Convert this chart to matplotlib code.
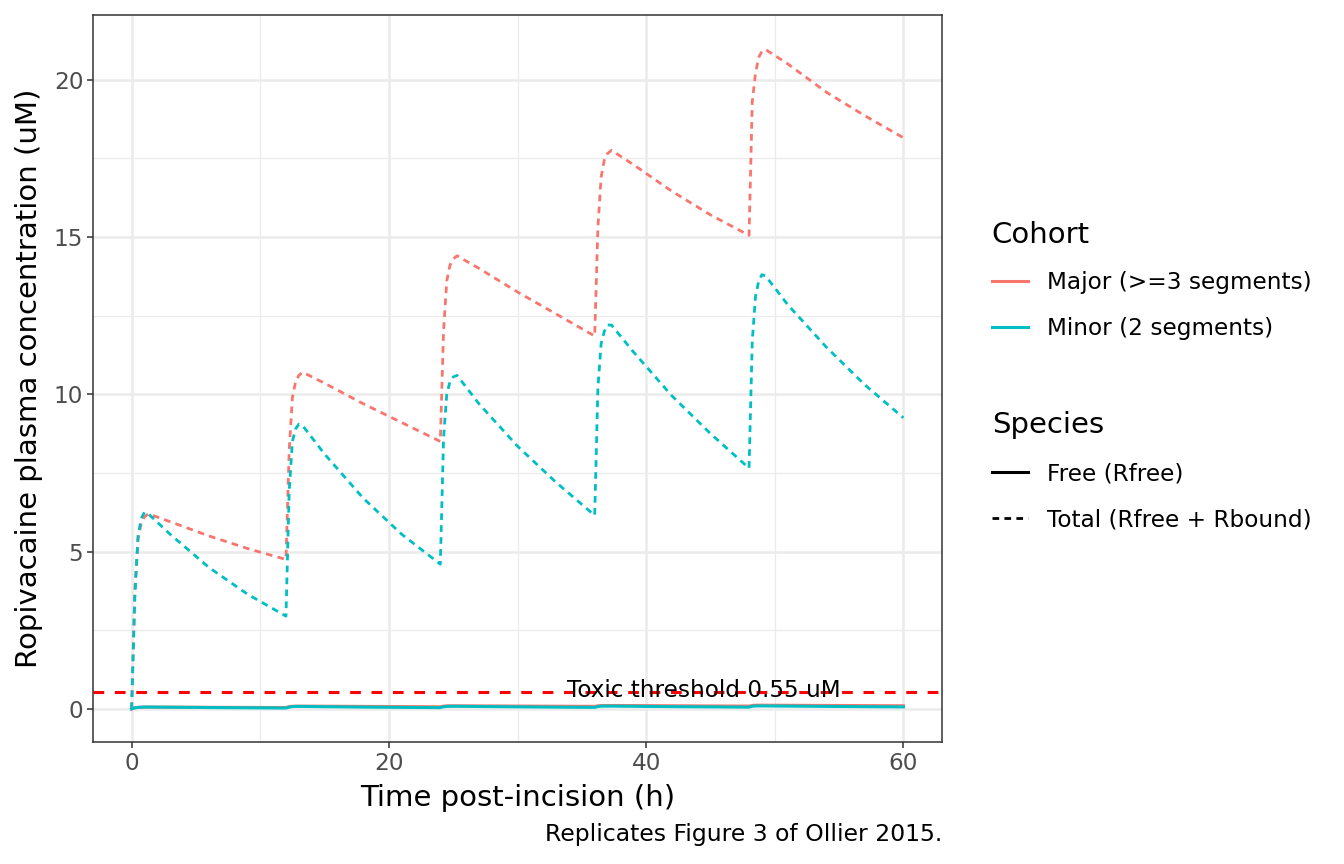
import matplotlib
matplotlib.use("Agg")
import matplotlib.pyplot as plt
from matplotlib.lines import Line2D

# time grid (h)
time_h = [0, 0.25, 0.5, 0.75, 1.0, 1.3, 3, 6, 9,
          12, 12.25, 12.5, 12.75, 13, 13.3, 15, 18, 21,
          24, 24.25, 24.5, 24.75, 25, 25.3, 27, 30, 33,
          36, 36.25, 36.5, 36.75, 37, 37.3, 39, 42, 45,
          48, 48.25, 48.5, 48.75, 49, 49.3, 51, 54, 57, 60]

major_total = [0, 3.8, 5.4, 5.9, 6.1, 6.2, 5.95, 5.5, 5.1,
               4.75, 8.2, 9.9, 10.4, 10.6, 10.7, 10.35, 9.7, 9.1,
               8.5, 12.0, 13.6, 14.1, 14.3, 14.4, 14.0, 13.25, 12.55,
               11.85, 15.3, 16.9, 17.45, 17.65, 17.75, 17.3, 16.45, 15.7,
               15.05, 19.3, 20.2, 20.7, 20.9, 20.95, 20.5, 19.6, 18.85, 18.15]

minor_total = [0, 3.5, 5.5, 6.05, 6.25, 6.2, 5.55, 4.5, 3.65,
               2.95, 6.9, 8.5, 8.9, 9.05, 9.0, 8.1, 6.7, 5.55,
               4.6, 8.6, 10.0, 10.4, 10.55, 10.6, 9.7, 8.35, 7.2,
               6.15, 10.2, 11.6, 12.0, 12.2, 12.2, 11.35, 9.95, 8.75,
               7.65, 11.7, 13.1, 13.6, 13.8, 13.75, 12.85, 11.5, 10.3, 9.25]

major_free = [0, 0.04, 0.05, 0.055, 0.06, 0.06, 0.058, 0.053, 0.049,
              0.045, 0.075, 0.085, 0.09, 0.09, 0.09, 0.088, 0.082, 0.076,
              0.07, 0.09, 0.1, 0.1, 0.1, 0.1, 0.098, 0.093, 0.088,
              0.083, 0.1, 0.11, 0.11, 0.11, 0.11, 0.108, 0.102, 0.096,
              0.092, 0.11, 0.12, 0.12, 0.12, 0.12, 0.117, 0.112, 0.107, 0.102]

minor_free = [0, 0.035, 0.05, 0.055, 0.06, 0.06, 0.055, 0.045, 0.037,
              0.03, 0.06, 0.075, 0.08, 0.08, 0.08, 0.072, 0.06, 0.05,
              0.042, 0.07, 0.08, 0.085, 0.085, 0.085, 0.078, 0.068, 0.058,
              0.05, 0.078, 0.088, 0.09, 0.09, 0.09, 0.084, 0.074, 0.066,
              0.058, 0.085, 0.094, 0.096, 0.096, 0.096, 0.09, 0.081, 0.073, 0.066]

threshold = 0.55

c_major = "#F8766D"
c_minor = "#00BFC4"

plt.rcParams['font.family'] = ['DejaVu Sans']

small = 16.7
big = 21

fig = plt.figure(figsize=(13.44, 8.64), dpi=100)
ax = fig.add_axes([0.0692, 0.1412, 0.6317, 0.8414])

dash_total = (2.4, 1.9)
ax.plot(time_h, major_total, color=c_major, lw=2.0, dashes=dash_total)
ax.plot(time_h, minor_total, color=c_minor, lw=2.0, dashes=dash_total)
ax.plot(time_h, major_free, color=c_major, lw=2.2)
ax.plot(time_h, minor_free, color=c_minor, lw=2.2)

ax.axhline(threshold, color="#FF0000", lw=2.2, dashes=(3.5, 3.5))
ax.text(44.5, threshold + 0.05, "Toxic threshold 0.55 uM", ha="center", va="center",
        fontsize=small, color="black")

ax.set_xlim(-3, 63)
ax.set_ylim(-1.05, 22.05)
ax.set_xticks([0, 20, 40, 60])
ax.set_yticks([0, 5, 10, 15, 20])
ax.set_xticks([10, 30, 50], minor=True)
ax.set_yticks([2.5, 7.5, 12.5, 17.5], minor=True)
ax.grid(True, which="major", color="#EBEBEB", lw=1.8)
ax.grid(True, which="minor", color="#EBEBEB", lw=0.9)
ax.set_axisbelow(True)
ax.tick_params(which="major", length=4, width=1.1, color="#333333",
               labelsize=small, labelcolor="#4D4D4D", pad=3)
ax.tick_params(which="minor", length=0)
for s in ax.spines.values():
    s.set_color("#333333")
    s.set_linewidth(1.1)

ax.set_xlabel("Time post-incision (h)", fontsize=big, labelpad=7)
ax.set_ylabel("Ropivacaine plasma concentration (uM)", fontsize=big, labelpad=7.5)

fig.text(0.7009, 0.034, "Replicates Figure 3 of Ollier 2015.", ha="right", va="center",
         fontsize=16.9)

# legends
cohort_handles = [Line2D([], [], color=c_major, lw=2.2),
                  Line2D([], [], color=c_minor, lw=2.2)]
leg1 = fig.legend(cohort_handles, ["Major (>=3 segments)", "Minor (2 segments)"],
                  title="Cohort", loc="upper left", bbox_to_anchor=(0.731, 0.7555),
                  frameon=False, fontsize=small, title_fontsize=big,
                  handlelength=1.55, handletextpad=0.85, labelspacing=0.99,
                  alignment="left", borderaxespad=0)
species_handles = [Line2D([], [], color="black", lw=2.2),
                   Line2D([], [], color="black", lw=2.0, dashes=dash_total)]
leg2 = fig.legend(species_handles, ["Free (Rfree)", "Total (Rfree + Rbound)"],
                  title="Species", loc="upper left", bbox_to_anchor=(0.731, 0.5346),
                  frameon=False, fontsize=small, title_fontsize=big,
                  handlelength=1.55, handletextpad=0.85, labelspacing=0.99,
                  alignment="left", borderaxespad=0)

fig.savefig("out.png", dpi=100)
